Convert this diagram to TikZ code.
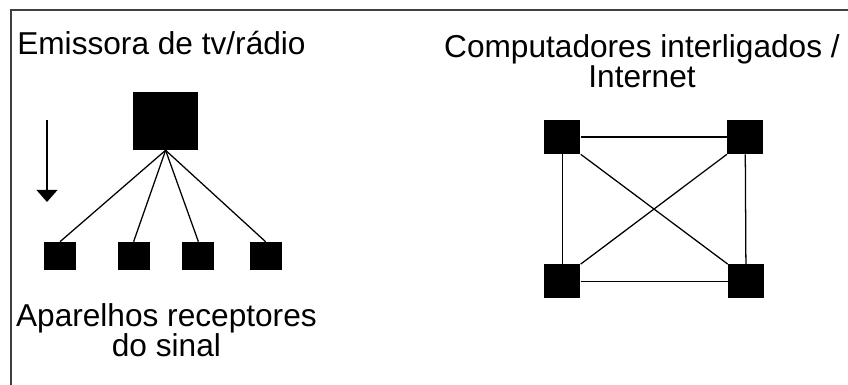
\documentclass[tikz,border=0pt]{standalone}
\usepackage{fontspec}
\setsansfont{Liberation Sans}
\usetikzlibrary{arrows.meta, positioning}

\begin{document}
\begin{tikzpicture}[
    font=\sffamily,
    % Node styles
    caption/.style={font=\sffamily\fontsize{22.5}{21.5}\selectfont, inner sep=0pt, align=center},
    station/.style={rectangle, fill=black, minimum width=1.625cm, minimum height=1.45cm, inner sep=0pt},
    receiver/.style={rectangle, fill=black, minimum width=0.8cm, minimum height=0.7cm, inner sep=0pt},
    computer/.style={rectangle, fill=black, minimum width=0.9cm, minimum height=0.85cm, inner sep=0pt},
    link/.style={line width=0.9pt, black},
    frameline/.style={line width=1.1pt, black!75},
]

\useasboundingbox (0,0) rectangle (21.2,9.625);

% Frame (left and top edge only)
\draw[frameline] (0.275,0) -- (0.275,9.375) -- (21.2,9.375);

% ============================================================================
% LEFT: BROADCAST
% ============================================================================
\node[caption, anchor=base west] (txlabel) at (0.425, 8.25) {Emissora de tv/rádio};

% Transmitter
\node[station] (tx) at (4.14, 6.6) {};

% Receivers
\foreach \x [count=\i] in {1.5, 3.34, 4.96, 6.64} {
    \node[receiver] (rx\i) at (\x, 3.225) {};
    \draw[link] (tx.south) -- (rx\i.north);
}

% Direction of the signal
\coordinate (flowtop) at (1.175, 6.625);
\coordinate (flowtip) at (1.175, 4.575);
\draw[link, -{Triangle[width=0.52cm, length=0.3cm]}] (flowtop) -- (flowtip);

% anchor=base sits on the last line
\node[caption, anchor=base] (rxlabel) at (4.16, 0.7) {Aparelhos receptores\\do sinal};

% ============================================================================
% RIGHT: NETWORK
% ============================================================================
\node[caption, anchor=base] (netlabel) at (16.05, 7.425) {Computadores interligados /\\Internet};

% Computers
\node[computer] (pc1) at (14.06, 6.2) {};
\node[computer] (pc2) at (18.63, 6.2) {};
\node[computer] (pc3) at (14.06, 2.59) {};
\node[computer] (pc4) at (18.65, 2.59) {};

% Links
\draw[link] (pc1) -- (pc2);
\draw[link] (pc3) -- (pc4);
\draw[link] (pc1) -- (pc3);
\draw[link] (pc2) -- (pc4);
\draw[link] (pc1.south east) -- (pc4.north west);
\draw[link] (pc2.south west) -- (pc3.north east);

\end{tikzpicture}
\end{document}
